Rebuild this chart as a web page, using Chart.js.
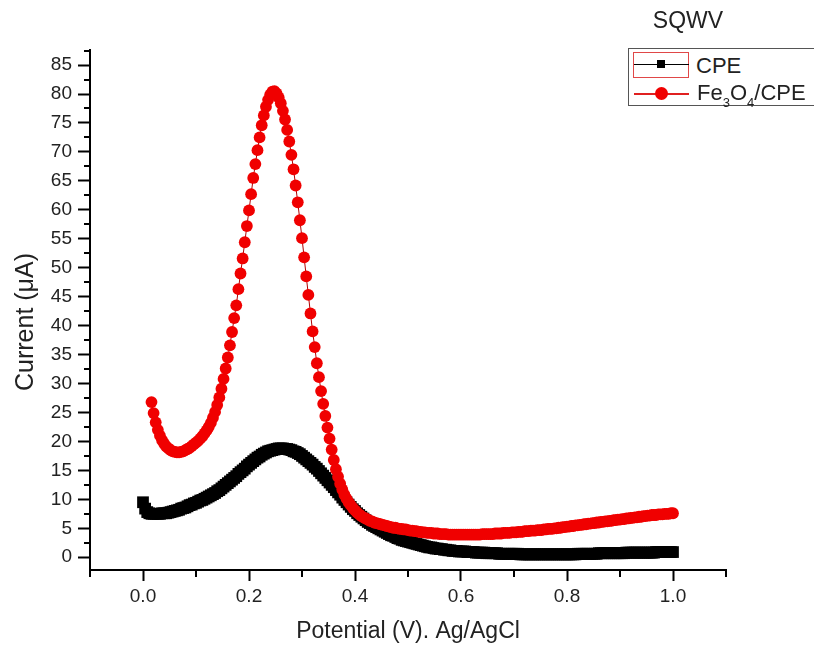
<!DOCTYPE html>
<html>
<head>
<meta charset="utf-8">
<script src="https://cdn.jsdelivr.net/npm/chart.js@4.4.1/dist/chart.umd.min.js"></script>
<style>
  html, body { margin: 0; padding: 0; background: #fff; }
  #wrap { position: relative; width: 814px; height: 647px; overflow: hidden;
          font-family: "Liberation Sans", Arial, sans-serif; color: #222; }
  #plot { position: absolute; left: 0; top: 0; }
  .abs { position: absolute; }
  #title { left: 628px; top: 9px; width: 120px; text-align: center; font-size: 23px; line-height: 23px; }
  #legendBox { left: 628px; top: 48px; width: 240px; height: 58px; box-sizing: border-box;
               border: 1px solid #555; background: #fff; }
  .lgText { font-size: 22px; line-height: 22px; white-space: nowrap; }
  .sub { font-size: 13px; position: relative; top: 7px; }
</style>
</head>
<body>
<div id="wrap">
  <canvas id="plot" width="814" height="647"></canvas>
  <div id="title" class="abs"></div>
  <div id="legendBox" class="abs"></div>
  <div id="legendItems"></div>
</div>
<script>
// Square-wave voltammetry scan: potential grid (V vs Ag/AgCl), 4 mV step
const potentials = [
  0.000,0.004,0.008,0.012,0.016,0.020,0.024,0.028,0.032,0.036,0.040,0.044,0.048,0.052,0.056,0.060,0.064,0.068,0.072,0.076,0.080,0.084,0.088,0.092,0.096,
  0.100,0.104,0.108,0.112,0.116,0.120,0.124,0.128,0.132,0.136,0.140,0.144,0.148,0.152,0.156,0.160,0.164,0.168,0.172,0.176,0.180,0.184,0.188,0.192,0.196,
  0.200,0.204,0.208,0.212,0.216,0.220,0.224,0.228,0.232,0.236,0.240,0.244,0.248,0.252,0.256,0.260,0.264,0.268,0.272,0.276,0.280,0.284,0.288,0.292,0.296,
  0.300,0.304,0.308,0.312,0.316,0.320,0.324,0.328,0.332,0.336,0.340,0.344,0.348,0.352,0.356,0.360,0.364,0.368,0.372,0.376,0.380,0.384,0.388,0.392,0.396,
  0.400,0.404,0.408,0.412,0.416,0.420,0.424,0.428,0.432,0.436,0.440,0.444,0.448,0.452,0.456,0.460,0.464,0.468,0.472,0.476,0.480,0.484,0.488,0.492,0.496,
  0.500,0.504,0.508,0.512,0.516,0.520,0.524,0.528,0.532,0.536,0.540,0.544,0.548,0.552,0.556,0.560,0.564,0.568,0.572,0.576,0.580,0.584,0.588,0.592,0.596,
  0.600,0.604,0.608,0.612,0.616,0.620,0.624,0.628,0.632,0.636,0.640,0.644,0.648,0.652,0.656,0.660,0.664,0.668,0.672,0.676,0.680,0.684,0.688,0.692,0.696,
  0.700,0.704,0.708,0.712,0.716,0.720,0.724,0.728,0.732,0.736,0.740,0.744,0.748,0.752,0.756,0.760,0.764,0.768,0.772,0.776,0.780,0.784,0.788,0.792,0.796,
  0.800,0.804,0.808,0.812,0.816,0.820,0.824,0.828,0.832,0.836,0.840,0.844,0.848,0.852,0.856,0.860,0.864,0.868,0.872,0.876,0.880,0.884,0.888,0.892,0.896,
  0.900,0.904,0.908,0.912,0.916,0.920,0.924,0.928,0.932,0.936,0.940,0.944,0.948,0.952,0.956,0.960,0.964,0.968,0.972,0.976,0.980,0.984,0.988,0.992,0.996,
  1.000
];

// Current (µA) on the bare carbon paste electrode
const cpeCurrent = [
  9.5, 8.4, 7.8, 7.6, 7.5, 7.5, 7.5, 7.5, 7.5, 7.6, 7.6, 7.6, 7.7, 7.8, 7.9, 8.0, 8.1, 8.2, 8.4, 8.5, 8.6, 8.8, 9.0, 9.1, 9.3,
  9.4, 9.6, 9.8, 9.9, 10.1, 10.3, 10.5, 10.7, 10.9, 11.1, 11.4, 11.6, 11.9, 12.2, 12.5, 12.8, 13.1, 13.4, 13.7, 14.0, 14.4, 14.7, 15.0, 15.3, 15.7,
  16.0, 16.3, 16.6, 16.9, 17.2, 17.4, 17.7, 17.9, 18.1, 18.3, 18.4, 18.5, 18.6, 18.7, 18.8, 18.8, 18.8, 18.7, 18.7, 18.6, 18.5, 18.3, 18.2, 18.0, 17.8,
  17.5, 17.2, 16.9, 16.6, 16.3, 16.0, 15.6, 15.3, 14.9, 14.5, 14.1, 13.7, 13.3, 12.9, 12.5, 12.1, 11.6, 11.2, 10.8, 10.3, 9.9, 9.5, 9.1, 8.7, 8.3,
  8.0, 7.6, 7.3, 7.0, 6.7, 6.4, 6.1, 5.9, 5.6, 5.4, 5.2, 5.0, 4.8, 4.6, 4.4, 4.2, 4.0, 3.8, 3.7, 3.5, 3.3, 3.2, 3.0, 2.9, 2.8,
  2.7, 2.6, 2.5, 2.4, 2.3, 2.2, 2.1, 2.0, 1.9, 1.8, 1.7, 1.7, 1.6, 1.5, 1.5, 1.4, 1.4, 1.3, 1.3, 1.2, 1.2, 1.1, 1.1, 1.1, 1.0,
  1.0, 1.0, 1.0, 0.9, 0.9, 0.9, 0.9, 0.8, 0.8, 0.8, 0.8, 0.8, 0.7, 0.7, 0.7, 0.7, 0.7, 0.7, 0.6, 0.6, 0.6, 0.6, 0.6, 0.6, 0.6,
  0.6, 0.6, 0.6, 0.5, 0.5, 0.5, 0.5, 0.5, 0.5, 0.5, 0.5, 0.5, 0.5, 0.5, 0.5, 0.5, 0.5, 0.5, 0.5, 0.5, 0.5, 0.5, 0.5, 0.5, 0.5,
  0.5, 0.5, 0.5, 0.5, 0.5, 0.6, 0.6, 0.6, 0.6, 0.6, 0.6, 0.6, 0.6, 0.6, 0.6, 0.7, 0.7, 0.7, 0.7, 0.7, 0.7, 0.7, 0.7, 0.7, 0.7,
  0.7, 0.7, 0.7, 0.8, 0.8, 0.8, 0.8, 0.8, 0.8, 0.8, 0.8, 0.8, 0.8, 0.8, 0.8, 0.8, 0.8, 0.9, 0.9, 0.9, 0.9, 0.9, 0.9, 0.9, 0.9,
  0.9
];

// Current (µA) on the Fe3O4-modified electrode (recording starts at 16 mV)
const fe3o4Current = [
  null, null, null, null, 26.8, 24.9, 23.3, 22.0, 21.0, 20.2, 19.6, 19.1, 18.8, 18.5, 18.3, 18.2, 18.1, 18.1, 18.2, 18.3, 18.5, 18.7, 18.9, 19.2, 19.5,
  19.8, 20.1, 20.5, 20.9, 21.4, 21.9, 22.5, 23.2, 24.1, 25.1, 26.3, 27.6, 29.1, 30.8, 32.6, 34.5, 36.6, 38.9, 41.3, 43.5, 46.3, 49.0, 51.6, 54.4, 57.2,
  59.9, 62.7, 65.5, 67.9, 70.3, 72.5, 74.6, 76.3, 77.8, 79.0, 79.9, 80.4, 80.5, 80.1, 79.4, 78.4, 77.1, 75.6, 73.8, 71.8, 69.5, 67.0, 64.2, 61.3, 58.2,
  55.1, 51.8, 48.5, 45.3, 42.1, 39.0, 36.3, 33.5, 31.1, 28.7, 26.5, 24.4, 22.4, 20.5, 18.6, 16.8, 15.2, 13.9, 12.7, 11.7, 10.8, 10.1, 9.5, 9.0, 8.5,
  8.1, 7.7, 7.4, 7.1, 6.9, 6.7, 6.5, 6.3, 6.2, 6.0, 5.9, 5.8, 5.7, 5.6, 5.5, 5.4, 5.3, 5.2, 5.1, 5.1, 5.0, 4.9, 4.9, 4.8, 4.8,
  4.7, 4.6, 4.6, 4.5, 4.5, 4.4, 4.4, 4.3, 4.3, 4.2, 4.2, 4.2, 4.1, 4.1, 4.1, 4.0, 4.0, 4.0, 4.0, 3.9, 3.9, 3.9, 3.9, 3.9, 3.9,
  3.9, 3.9, 3.9, 3.9, 3.9, 3.9, 3.9, 3.9, 3.9, 3.9, 4.0, 4.0, 4.0, 4.0, 4.0, 4.0, 4.1, 4.1, 4.1, 4.1, 4.2, 4.2, 4.2, 4.2, 4.3,
  4.3, 4.3, 4.4, 4.4, 4.4, 4.5, 4.5, 4.5, 4.6, 4.6, 4.6, 4.7, 4.7, 4.7, 4.8, 4.8, 4.9, 4.9, 4.9, 5.0, 5.0, 5.1, 5.1, 5.2, 5.2,
  5.3, 5.3, 5.4, 5.4, 5.5, 5.5, 5.6, 5.6, 5.7, 5.7, 5.8, 5.8, 5.9, 5.9, 6.0, 6.0, 6.1, 6.1, 6.2, 6.2, 6.3, 6.3, 6.4, 6.4, 6.5,
  6.5, 6.6, 6.6, 6.7, 6.7, 6.8, 6.8, 6.9, 6.9, 7.0, 7.0, 7.1, 7.1, 7.2, 7.2, 7.3, 7.3, 7.3, 7.4, 7.4, 7.4, 7.5, 7.5, 7.5, 7.6,
  7.6
];

const seriesNames = ['CPE', 'Fe3O4/CPE'];
const chartTitle = 'SQWV';
const xAxisTitle = 'Potential (V). Ag/AgCl';
const yAxisTitle = 'Current (μA)';

const xRange = [-0.1, 1.1];
const yRange = [-2.2, 87.6];
const xTickValues = [0.0, 0.2, 0.4, 0.6, 0.8, 1.0];
const xMinorValues = [-0.1, 0.1, 0.3, 0.5, 0.7, 0.9, 1.1];
const yTickValues = [0, 5, 10, 15, 20, 25, 30, 35, 40, 45, 50, 55, 60, 65, 70, 75, 80, 85];
const yMinorValues = [2.5, 7.5, 12.5, 17.5, 22.5, 27.5, 32.5, 37.5, 42.5, 47.5, 52.5, 57.5, 62.5, 67.5, 72.5, 77.5, 82.5, 87.5];

const toPoints = ys => potentials.map((x, i) => ({ x: x, y: ys[i] }));
const FONT = '"Liberation Sans", Arial, sans-serif';

// Short minor ticks between the labelled ones, plus the rotated y-axis title
const axisExtras = {
  id: 'axisExtras',
  afterDraw(chart) {
    const { ctx, scales: { x, y }, chartArea } = chart;
    ctx.save();
    ctx.strokeStyle = '#000';
    ctx.lineWidth = 2;
    ctx.beginPath();
    xMinorValues.forEach(v => {
      const px = Math.round(x.getPixelForValue(v));
      ctx.moveTo(px, chartArea.bottom);
      ctx.lineTo(px, chartArea.bottom + 7);
    });
    yMinorValues.forEach(v => {
      const py = Math.round(y.getPixelForValue(v));
      ctx.moveTo(chartArea.left - 6, py);
      ctx.lineTo(chartArea.left, py);
    });
    ctx.stroke();

    ctx.translate(26, (chartArea.top + chartArea.bottom) / 2 + 12);
    ctx.rotate(-Math.PI / 2);
    ctx.fillStyle = '#222';
    ctx.font = '25px ' + FONT;
    ctx.textAlign = 'center';
    ctx.textBaseline = 'middle';
    ctx.fillText(yAxisTitle, 0, 0);
    ctx.restore();
  }
};

const chart = new Chart(document.getElementById('plot'), {
  type: 'line',
  data: {
    datasets: [
      {
        label: seriesNames[0],
        data: toPoints(cpeCurrent),
        borderColor: '#000',
        backgroundColor: '#000',
        borderWidth: 1,
        pointStyle: 'rect',
        pointRadius: 8.3,
        pointBorderWidth: 0,
        pointBackgroundColor: '#000',
        order: 2
      },
      {
        label: seriesNames[1],
        data: toPoints(fe3o4Current),
        borderColor: '#b00000',
        backgroundColor: '#f00000',
        borderWidth: 1,
        pointStyle: 'circle',
        pointRadius: 5.9,
        pointBorderWidth: 0,
        pointBackgroundColor: '#f00000',
        order: 1
      }
    ]
  },
  options: {
    responsive: false,
    animation: false,
    devicePixelRatio: 1,
    layout: { padding: { top: 50, right: 88, left: 0, bottom: 0 } },
    plugins: {
      legend: { display: false },
      title: { display: false },
      tooltip: { enabled: false }
    },
    scales: {
      x: {
        type: 'linear',
        min: xRange[0],
        max: xRange[1],
        afterBuildTicks: s => { s.ticks = xTickValues.map(value => ({ value })); },
        afterFit: s => { s.height = 77; },
        ticks: {
          autoSkip: false,
          maxRotation: 0,
          padding: 4,
          color: '#222',
          font: { family: FONT, size: 19 },
          callback: v => Number(v).toFixed(1)
        },
        grid: { drawOnChartArea: false, drawTicks: true, tickLength: 11, tickWidth: 2, tickColor: '#000' },
        border: { display: true, color: '#000', width: 2 },
        title: {
          display: true,
          text: xAxisTitle,
          color: '#222',
          font: { family: FONT, size: 23, lineHeight: 1.2 },
          padding: { top: 0, bottom: 2 }
        }
      },
      y: {
        type: 'linear',
        min: yRange[0],
        max: yRange[1],
        afterBuildTicks: s => { s.ticks = yTickValues.map(value => ({ value })); },
        afterFit: s => { s.width = 90; },
        ticks: {
          autoSkip: false,
          padding: 6,
          color: '#222',
          font: { family: FONT, size: 19 },
          callback: v => String(v)
        },
        grid: { drawOnChartArea: false, drawTicks: true, tickLength: 12, tickWidth: 2, tickColor: '#000' },
        border: { display: true, color: '#000', width: 2 }
      }
    }
  },
  plugins: [axisExtras]
});

// Title and legend drawn as page text next to the plot
document.getElementById('title').textContent = chartTitle;

function subscriptDigits(label) {
  return label.replace(/(\d)/g, '<span class="sub">$1</span>');
}

const legendItems = document.getElementById('legendItems');
const legendRows = [
  { top: 52, frame: true, marker: 'rect', line: '#000', lineH: 1 },
  { top: 80, frame: false, marker: 'circle', line: '#e02020', lineH: 2 }
];
chart.data.datasets.forEach((ds, i) => {
  const row = legendRows[i];
  const mid = row.top + 12;
  let html = '';
  if (row.frame) {
    html += `<div class="abs" style="left:633px;top:${row.top}px;width:56px;height:26px;box-sizing:border-box;border:1px solid #e04848;"></div>`;
  }
  html += `<div class="abs" style="left:634px;top:${mid + (row.lineH === 2 ? 1 : 0)}px;width:55px;height:${row.lineH}px;background:${row.line};"></div>`;
  if (row.marker === 'rect') {
    html += `<div class="abs" style="left:657px;top:${mid - 4}px;width:8px;height:8px;background:${ds.pointBackgroundColor};"></div>`;
  } else {
    html += `<div class="abs" style="left:655px;top:${mid - 5}px;width:13px;height:13px;border-radius:50%;background:${ds.pointBackgroundColor};"></div>`;
  }
  html += `<div class="abs lgText" style="left:${696 + i}px;top:${row.top + 3 - i}px;">${subscriptDigits(ds.label)}</div>`;
  legendItems.insertAdjacentHTML('beforeend', html);
});
</script>
</body>
</html>
